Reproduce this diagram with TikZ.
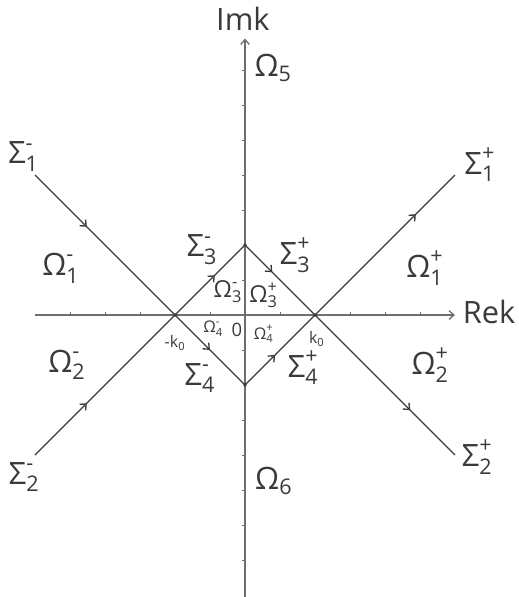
\documentclass[tikz,border=0pt]{standalone}
\usepackage{amsmath}
\usepackage{fontspec}
\setmainfont{Open Sans}
\usepackage{tikz}
\usetikzlibrary{arrows.meta, decorations.markings}
\definecolor{ink}{HTML}{3A3A3A}
\definecolor{axisgray}{HTML}{6E6E6E}
\tikzset{
  axis/.style     = {draw=axisgray, line width=1.1pt},
  ray/.style      = {draw=ink, line width=1.1pt},
  midarrow/.style = {postaction={decorate}, decoration={markings,
                     mark=at position #1 with {\arrow{Straight Barb[length=4pt,width=7pt]}}}},
  lblL/.style     = {text=ink, inner sep=0pt, font=\fontsize{25}{27}\selectfont},
  lblM/.style     = {text=ink, inner sep=0pt, font=\fontsize{19}{21}\selectfont},
  lblS/.style     = {text=ink, inner sep=0pt, font=\fontsize{13}{15}\selectfont},
  vdot/.style     = {circle, fill=ink, inner sep=0pt, minimum size=3pt},
}
\newcommand{\glab}[3]{$\text{#1}_{\text{#2}}^{\text{#3}}$}

\begin{document}
\begin{tikzpicture}
  \useasboundingbox (-7,-8.057) rectangle (7.8,9);

  %% axes
  \coordinate (xl) at (-6,0);
  \coordinate (xr) at ( 6,0);
  \coordinate (yb) at (0,-8.06);
  \coordinate (yt) at (0, 7.9);
  \draw[axis, -{Straight Barb[length=4pt,width=7pt]}] (xl) -- (xr);
  \draw[axis, -{Straight Barb[length=4pt,width=7pt]}] (yb) -- (yt);
  \foreach \x in {-5,-4,-3,-1,1,3,4,5}
    \draw[axis, line width=0.8pt] (\x,0) -- (\x,0.09);
  \foreach \y in {-7,-6,-5,-4,-3,-1,1,3,4,5,6,7}
    \draw[axis, line width=0.8pt] (0,\y) -- (-0.09,\y);

  \node[lblL, anchor=west] (rek) at (6.22,0.08) {Rek};
  \node[lblL] (imk) at (-0.06,8.45) {Imk};

  %% points
  \node[vdot] (mk)  at (-2,0) {};
  \node[vdot] (pk)  at ( 2,0) {};
  \node[vdot] (top) at (0, 2) {};
  \node[vdot] (bot) at (0,-2) {};
  \coordinate (s1m) at (-6, 4);
  \coordinate (s2m) at (-6,-4);
  \coordinate (s1p) at ( 6, 4);
  \coordinate (s2p) at ( 6,-4);

  %% outer rays
  \draw[ray, midarrow=0.37] (s1m) -- (mk.center);
  \draw[ray, midarrow=0.37] (s2m) -- (mk.center);
  \draw[ray, midarrow=0.72] (pk.center) -- (s1p);
  \draw[ray, midarrow=0.68] (pk.center) -- (s2p);

  %% diamond
  \draw[ray, midarrow=0.57] (mk.center)  -- (top.center);
  \draw[ray, midarrow=0.39] (top.center) -- (pk.center);
  \draw[ray, midarrow=0.5]  (mk.center)  -- (bot.center);
  \draw[ray, midarrow=0.43] (bot.center) -- (pk.center);

  %% contour labels
  \node[lblL] (sig1m) at (-6.33, 4.52) {\glab{Σ}{1}{-}};
  \node[lblL] (sig1p) at ( 6.71, 4.29) {\glab{Σ}{1}{+}};
  \node[lblL] (sig2m) at (-6.31,-4.63) {\glab{Σ}{2}{-}};
  \node[lblL] (sig2p) at ( 6.63,-4.06) {\glab{Σ}{2}{+}};
  \node[lblL] (sig3m) at (-1.23, 1.86) {\glab{Σ}{3}{-}};
  \node[lblL] (sig3p) at ( 1.43, 1.71) {\glab{Σ}{3}{+}};
  \node[lblL] (sig4m) at (-1.29,-1.8)  {\glab{Σ}{4}{-}};
  \node[lblL] (sig4p) at ( 1.66,-1.51) {\glab{Σ}{4}{+}};

  %% region labels
  \node[lblL] (om1m) at (-5.26, 1.34) {\glab{Ω}{1}{-}};
  \node[lblL] (om1p) at ( 5.14, 1.34) {\glab{Ω}{1}{+}};
  \node[lblL] (om2m) at (-5.09,-1.43) {\glab{Ω}{2}{-}};
  \node[lblL] (om2p) at ( 5.29,-1.43) {\glab{Ω}{2}{+}};
  \node[lblL] (om5)  at ( 0.8,  7.06) {$\text{Ω}_{\text{5}}$};
  \node[lblL] (om6)  at ( 0.82,-4.74) {$\text{Ω}_{\text{6}}$};
  \node[lblM] (om3m) at (-0.49, 0.66) {\glab{Ω}{3}{-}};
  \node[lblM] (om3p) at ( 0.53, 0.57) {\glab{Ω}{3}{+}};
  \node[lblS] (om4m) at (-0.91,-0.4)  {\glab{Ω}{4}{-}};
  \node[lblS] (om4p) at ( 0.53,-0.54) {\glab{Ω}{4}{+}};

  %% points on real axis
  \node[lblS, font=\fontsize{15}{17}\selectfont] (zero) at (-0.23,-0.43) {0};
  \node[lblS] (lmk) at (-2.0, -0.8)  {-$\text{k}_{\text{0}}$};
  \node[lblS] (lpk) at ( 2.05,-0.69) {$\text{k}_{\text{0}}$};
\end{tikzpicture}
\end{document}
